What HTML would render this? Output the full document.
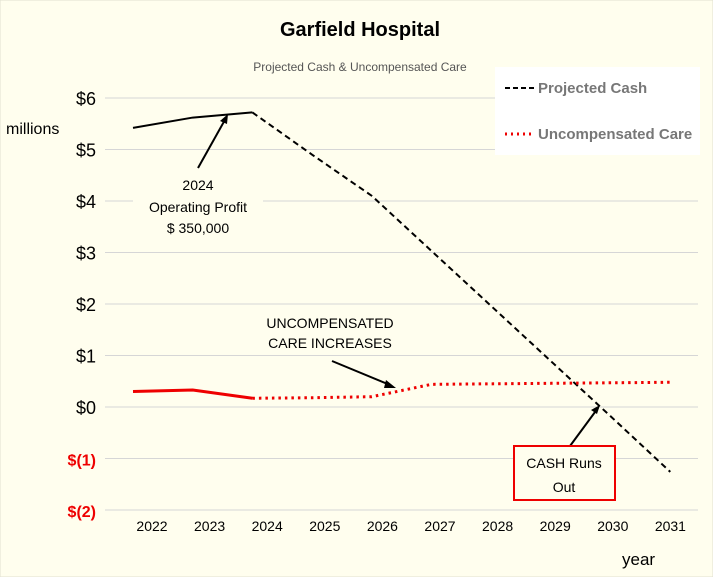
<!DOCTYPE html>
<html><head><meta charset="utf-8"><style>
body{margin:0;background:#fffeee;}
svg{display:block;font-family:"Liberation Sans",sans-serif;}
</style></head><body>
<svg id="chart" width="713" height="577">
<rect width="713" height="577" fill="#fffeee" stroke="#e0e0d0"/>
<text x="360" y="36" text-anchor="middle" font-size="20" font-weight="bold" fill="#000">Garfield Hospital</text>
<text x="360" y="71" text-anchor="middle" font-size="12" fill="#555">Projected Cash &amp; Uncompensated Care</text>
<text x="6" y="134" font-size="16" fill="#000">millions</text>
<text x="622" y="565" font-size="17" fill="#000">year</text>
<g id="grid"></g><g id="ylabels"></g><g id="xlabels"></g><g id="series"></g>
<g>
<rect x="495" y="67" width="205" height="88" fill="#fff"/>
<line x1="505" y1="88" x2="535" y2="88" stroke="#000" stroke-width="2" stroke-dasharray="5,3"/>
<text x="538" y="93" font-size="15" font-weight="bold" fill="#777">Projected Cash</text>
<line x1="505" y1="134" x2="535" y2="134" stroke="#e00" stroke-width="3" stroke-dasharray="2,4"/>
<text x="538" y="139" font-size="15" font-weight="bold" fill="#777">Uncompensated Care</text>
</g>
<g>
<rect x="133" y="172" width="130" height="65" fill="#fffeee"/>
<line x1="198" y1="168" x2="226" y2="118" stroke="#000" stroke-width="2"/>
<polygon points="228,114 220,121 227,124" fill="#000"/>
<text x="198" y="190" text-anchor="middle" font-size="14">2024</text>
<text x="198" y="212" text-anchor="middle" font-size="14">Operating Profit</text>
<text x="198" y="233" text-anchor="middle" font-size="14">$ 350,000</text>
</g>
<g>
<rect x="250" y="312" width="160" height="42" fill="#fffeee"/>
<text x="330" y="328" text-anchor="middle" font-size="14">UNCOMPENSATED</text>
<text x="330" y="348" text-anchor="middle" font-size="14">CARE INCREASES</text>
<line x1="332" y1="361" x2="390" y2="385" stroke="#000" stroke-width="2"/>
<polygon points="396,388 386,380 384,388" fill="#000"/>
</g>
<g>
<line x1="570" y1="446" x2="598" y2="408" stroke="#000" stroke-width="2"/>
<polygon points="600,405 591,410 597,414" fill="#000"/>
<rect x="514" y="446" width="101" height="54" fill="#fffeee" stroke="#e00" stroke-width="2"/>
<text x="564" y="468" text-anchor="middle" font-size="14">CASH Runs</text>
<text x="564" y="492" text-anchor="middle" font-size="14">Out</text>
</g>
</svg>
<script>
const years=["2022","2023","2024","2025","2026","2027","2028","2029","2030","2031"];
const cash=[5.42,5.62,5.72,4.9,4.1,3.03,1.96,0.89,-0.18,-1.26];
const uncomp=[0.3,0.33,0.17,0.18,0.2,0.44,0.45,0.46,0.47,0.48];
const yTicks=[6,5,4,3,2,1,0,-1,-2];
const yTickLabels=["$6","$5","$4","$3","$2","$1","$0","$(1)","$(2)"];
const NS="http://www.w3.org/2000/svg";
function y(v){return 407-v*51.5;}
function xp(i){return 133+i*59.7;}
function xl(i){return 152+i*57.6;}
function mk(t,a,p){const e=document.createElementNS(NS,t);for(const k in a)e.setAttribute(k,a[k]);p.appendChild(e);return e;}
const grid=document.getElementById('grid'),yl=document.getElementById('ylabels'),xlg=document.getElementById('xlabels'),ser=document.getElementById('series');
yTicks.forEach((v,i)=>{
 const l=mk('line',{x1:105,x2:698,y1:y(v),y2:y(v),stroke:'#d6d6d6','stroke-width':1},grid);
 
 
 const neg=v<0;
 const t=mk('text',{x:neg?96:96,y:y(v)+7,'text-anchor':'end','font-size':neg?16:18,'font-weight':neg?'bold':'normal',fill:neg?'#e00':'#000'},yl);
 t.textContent=yTickLabels[i];
 
 
});
years.forEach((yr,i)=>{
 const t=mk('text',{x:xl(i),y:531,'text-anchor':'middle','font-size':14},xlg);
 t.textContent=yr;
 
 
});
function pts(arr,a,b){let s=[];for(let i=a;i<=b;i++)s.push(xp(i)+','+y(arr[i]));return s.join(' ');}
let p;
p=mk('polyline',{points:pts(cash,0,2),fill:'none',stroke:'#000','stroke-width':2},ser);


p=mk('polyline',{points:pts(cash,2,cash.length-1),fill:'none',stroke:'#000','stroke-width':2,'stroke-dasharray':'6,4'},ser);


p=mk('polyline',{points:pts(uncomp,0,2),fill:'none',stroke:'#e00','stroke-width':3},ser);


p=mk('polyline',{points:pts(uncomp,2,uncomp.length-1),fill:'none',stroke:'#e00','stroke-width':3,'stroke-dasharray':'2.5,4'},ser);


</script>
</body></html>
